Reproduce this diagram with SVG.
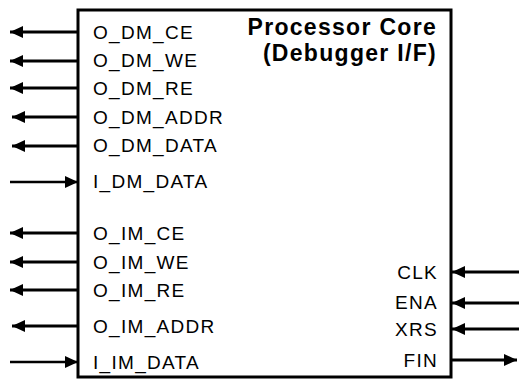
<svg xmlns="http://www.w3.org/2000/svg" width="519" height="379" viewBox="0 0 519 379">
<style>
.lbl{font-family:"Liberation Sans",Arial,sans-serif;font-size:19px;letter-spacing:1.3px;fill:#000}
.ttl{font-family:"Liberation Sans",Arial,sans-serif;font-size:23px;letter-spacing:1.3px;font-weight:bold;fill:#000}
.out{stroke:#000;stroke-width:3;marker-end:url(#ah)}
.in{stroke:#000;stroke-width:2.5;marker-end:url(#ah)}
</style>
<defs>
<marker id="ah" markerUnits="userSpaceOnUse" markerWidth="13" markerHeight="12" refX="13" refY="6" orient="auto">
<path d="M0,0 L13,6 L0,12 z" fill="#000"/>
</marker>
</defs>
<rect width="519" height="379" fill="#fff"/>
<g id="core">
<rect x="78" y="10" width="373" height="367" fill="#fff" stroke="#000" stroke-width="3"/>
<text class="ttl" x="437" y="35" text-anchor="end">Processor Core</text>
<text class="ttl" x="437" y="61" text-anchor="end">(Debugger I/F)</text>
<text class="lbl" x="93" y="38.5">O_DM_CE</text>
<text class="lbl" x="93" y="67">O_DM_WE</text>
<text class="lbl" x="93" y="94.5">O_DM_RE</text>
<text class="lbl" x="93" y="123.5">O_DM_ADDR</text>
<text class="lbl" x="93" y="152">O_DM_DATA</text>
<text class="lbl" x="93" y="188">I_DM_DATA</text>
<text class="lbl" x="93" y="239.5">O_IM_CE</text>
<text class="lbl" x="93" y="268.5">O_IM_WE</text>
<text class="lbl" x="93" y="296.5">O_IM_RE</text>
<text class="lbl" x="93" y="332.5">O_IM_ADDR</text>
<text class="lbl" x="93" y="368.5">I_IM_DATA</text>
<text class="lbl" x="438" y="278.5" text-anchor="end">CLK</text>
<text class="lbl" x="438" y="309" text-anchor="end">ENA</text>
<text class="lbl" x="438" y="335.5" text-anchor="end">XRS</text>
<text class="lbl" x="438" y="366.5" text-anchor="end">FIN</text>
</g>
<g id="connectors">
<line class="out" x1="77" y1="32" x2="10" y2="32"/>
<line class="out" x1="77" y1="61" x2="10" y2="61"/>
<line class="out" x1="77" y1="88" x2="10" y2="88"/>
<line class="out" x1="77" y1="117" x2="12" y2="117"/>
<line class="out" x1="77" y1="146" x2="12" y2="146"/>
<line class="in" x1="10" y1="182" x2="78" y2="182"/>
<line class="out" x1="77" y1="233" x2="10" y2="233"/>
<line class="out" x1="77" y1="262" x2="10" y2="262"/>
<line class="out" x1="77" y1="290" x2="10" y2="290"/>
<line class="out" x1="77" y1="326" x2="12" y2="326"/>
<line class="in" x1="10" y1="362" x2="78" y2="362"/>
<line class="out" x1="519" y1="272" x2="452" y2="272"/>
<line class="out" x1="519" y1="303" x2="452" y2="303"/>
<line class="out" x1="519" y1="329" x2="452" y2="329"/>
<line class="out" x1="452" y1="360" x2="517" y2="360"/>
</g>
</svg>
